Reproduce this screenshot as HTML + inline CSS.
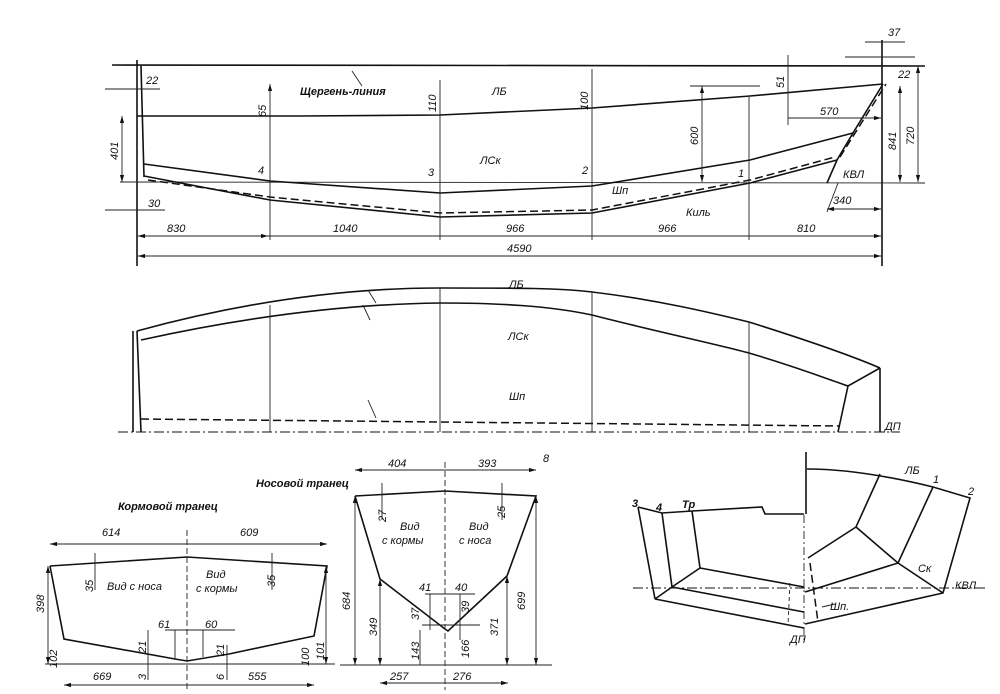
<!DOCTYPE html>
<html><head><meta charset="utf-8"><style>
html,body{margin:0;padding:0;background:#fff;}
svg{display:block}
text{font-family:"Liberation Sans",sans-serif;font-style:italic;font-size:11px;fill:#111}
.l{stroke:#111;stroke-width:1.6;fill:none}
.t{stroke:#222;stroke-width:0.9;fill:none}
.d{stroke:#111;stroke-width:1.5;fill:none;stroke-dasharray:8 4}
.dd{stroke:#111;stroke-width:1.1;fill:none;stroke-dasharray:10 3 2 3}
</style></head><body>
<svg width="1000" height="694" viewBox="0 0 1000 694" xmlns="http://www.w3.org/2000/svg">
<defs><marker id="a" viewBox="0 0 10 10" refX="10" refY="5" markerUnits="userSpaceOnUse" markerWidth="9" markerHeight="7" orient="auto-start-reverse"><path d="M0,2 L10,5 L0,8 z" fill="#111"/></marker></defs>

<!-- ===== PROFILE ===== -->
<line class="l" x1="112" y1="65" x2="925" y2="66"/>
<line class="l" x1="137" y1="60" x2="137" y2="266"/>
<line class="l" x1="141" y1="66" x2="144" y2="177"/>
<line class="t" x1="120" y1="182" x2="925" y2="183"/>
<polyline class="l" points="137,116 300,116 440,115 592,108 750,96 883,84"/>
<polyline class="l" points="144,164 270,181 440,193 592,186 750,160 853,133"/>
<polyline class="l" points="144,176 270,200 440,217 592,213 750,183 837,160"/>
<polyline class="d" points="148,180 270,197 440,213 592,210 750,180 835,157"/>
<polyline class="l" points="827,183 837,160 853,133 883,84"/>
<line class="d" x1="840" y1="157" x2="886" y2="84"/>
<line class="l" x1="882" y1="40" x2="882" y2="266"/>
<line class="t" x1="838" y1="183" x2="827" y2="212"/>
<!-- stations -->
<line class="t" x1="270" y1="84" x2="270" y2="240" marker-start="url(#a)"/>
<line class="t" x1="440" y1="80" x2="440" y2="240"/>
<line class="t" x1="592" y1="69" x2="592" y2="240"/>
<line class="t" x1="749" y1="97" x2="749" y2="240"/>
<line class="t" x1="702" y1="86" x2="702" y2="182" marker-start="url(#a)" marker-end="url(#a)"/>
<line class="t" x1="690" y1="86" x2="760" y2="86"/>
<line class="t" x1="788" y1="55" x2="788" y2="125"/>
<line class="t" x1="788" y1="118" x2="881" y2="118" marker-end="url(#a)"/>
<line class="t" x1="900" y1="86" x2="900" y2="182" marker-start="url(#a)" marker-end="url(#a)"/>
<line class="t" x1="918" y1="66" x2="918" y2="182" marker-start="url(#a)" marker-end="url(#a)"/>
<line class="t" x1="122" y1="116" x2="122" y2="182" marker-start="url(#a)" marker-end="url(#a)"/>
<line class="t" x1="105" y1="89" x2="160" y2="89"/>
<line class="t" x1="105" y1="210" x2="165" y2="210"/>
<line class="t" x1="827" y1="209" x2="881" y2="209" marker-start="url(#a)" marker-end="url(#a)"/>
<line class="t" x1="865" y1="42" x2="905" y2="42"/>
<line class="t" x1="845" y1="57" x2="915" y2="57"/>
<line class="t" x1="138" y1="236" x2="881" y2="236"/>
<line class="t" x1="138" y1="256" x2="881" y2="256" marker-start="url(#a)" marker-end="url(#a)"/>
<line class="t" x1="138" y1="236" x2="268" y2="236" marker-start="url(#a)" marker-end="url(#a)"/>
<line class="t" x1="749" y1="236" x2="881" y2="236" marker-end="url(#a)"/>
<line class="t" x1="352" y1="71" x2="362" y2="86"/>
<text x="300" y="95" font-weight="bold">Щергень-линия</text>
<text x="492" y="95">ЛБ</text><text x="480" y="164">ЛСк</text>
<text x="258" y="174" font-size="12">4</text><text x="428" y="176" font-size="12">3</text>
<text x="582" y="174" font-size="12">2</text><text x="738" y="177" font-size="12">1</text>
<text x="146" y="84">22</text><text x="148" y="207">30</text>
<text x="612" y="194">Шп</text><text x="686" y="216">Киль</text>
<text x="843" y="178" font-size="12">КВЛ</text><text x="833" y="204" font-size="12">340</text>
<text x="820" y="115" font-size="12">570</text><text x="888" y="36">37</text><text x="898" y="78">22</text>
<text x="167" y="232" font-size="12">830</text><text x="333" y="232" font-size="12">1040</text>
<text x="506" y="232" font-size="12">966</text><text x="658" y="232" font-size="12">966</text>
<text x="797" y="232" font-size="12">810</text><text x="507" y="252" font-size="12">4590</text>
<g font-size="12">
<text transform="translate(118,160) rotate(-90)">401</text>
<text transform="translate(266,117) rotate(-90)">65</text>
<text transform="translate(436,112) rotate(-90)">110</text>
<text transform="translate(588,110) rotate(-90)">100</text>
<text transform="translate(698,145) rotate(-90)">600</text>
<text transform="translate(784,88) rotate(-90)">51</text>
<text transform="translate(896,150) rotate(-90)">841</text>
<text transform="translate(914,145) rotate(-90)">720</text>
</g>

<!-- ===== PLAN ===== -->
<path class="l" d="M137,331 C250,300 350,288 440,288 C520,288 560,288 592,292 C660,300 720,315 749,322 C800,338 850,355 880,368"/>
<path class="l" d="M141,340 C250,316 350,304 440,303 C500,303 550,306 592,315 C650,330 720,345 749,353 C800,368 830,380 848,386 L880,368"/>
<line class="l" x1="133" y1="331" x2="133" y2="432"/>
<line class="l" x1="137" y1="331" x2="141" y2="432"/>
<line class="t" x1="270" y1="305" x2="270" y2="432"/>
<line class="t" x1="440" y1="288" x2="440" y2="432"/>
<line class="t" x1="592" y1="292" x2="592" y2="432"/>
<line class="t" x1="749" y1="322" x2="749" y2="432"/>
<polyline class="l" points="848,386 838,432"/>
<line class="l" x1="880" y1="368" x2="880" y2="432"/>
<line class="dd" x1="118" y1="432" x2="900" y2="432"/>
<line class="d" x1="141" y1="419" x2="840" y2="426"/>
<line class="t" x1="368" y1="400" x2="376" y2="418"/>
<line class="t" x1="368" y1="290" x2="376" y2="303"/>
<line class="t" x1="363" y1="305" x2="370" y2="320"/>
<text x="509" y="288">ЛБ</text><text x="508" y="340">ЛСк</text>
<text x="509" y="400" font-size="12">Шп</text><text x="885" y="430">ДП</text>

<!-- ===== STERN TRANSOM ===== -->
<text x="118" y="510" font-size="12" font-weight="bold">Кормовой транец</text>
<polyline class="l" points="50,566 187,557 327,566 314,636 229,654 187,661 175,659 64,639 50,566"/>
<line class="t" x1="45" y1="664" x2="335" y2="664"/>
<line class="t" x1="187" y1="530" x2="187" y2="690" stroke-dasharray="6 3"/>
<line class="t" x1="50" y1="544" x2="327" y2="544" marker-start="url(#a)" marker-end="url(#a)"/>
<line class="t" x1="64" y1="685" x2="314" y2="685" marker-start="url(#a)" marker-end="url(#a)"/>
<line class="t" x1="48" y1="566" x2="48" y2="664" marker-start="url(#a)" marker-end="url(#a)"/>
<line class="t" x1="326" y1="566" x2="326" y2="664" marker-start="url(#a)" marker-end="url(#a)"/>
<line class="t" x1="95" y1="553" x2="95" y2="590"/><line class="t" x1="272" y1="553" x2="272" y2="590"/>
<line class="t" x1="165" y1="630" x2="235" y2="630"/>
<line class="t" x1="175" y1="630" x2="175" y2="659"/><line class="t" x1="203" y1="630" x2="203" y2="657"/>
<line class="t" x1="148" y1="630" x2="148" y2="680"/><line class="t" x1="227" y1="645" x2="227" y2="680"/>
<text x="102" y="536" font-size="12">614</text><text x="240" y="536" font-size="12">609</text>
<text x="107" y="590" font-size="12">Вид с носа</text>
<text x="206" y="578" font-size="12">Вид</text><text x="196" y="592" font-size="12">с кормы</text>
<text x="158" y="628">61</text><text x="205" y="628">60</text>
<text x="93" y="680" font-size="12">669</text><text x="248" y="680" font-size="12">555</text>
<g>
<text transform="translate(44,613) rotate(-90)">398</text>
<text transform="translate(93,592) rotate(-90)">35</text>
<text transform="translate(275,587) rotate(-90)">35</text>
<text transform="translate(146,653) rotate(-90)">21</text>
<text transform="translate(224,656) rotate(-90)">21</text>
<text transform="translate(57,668) rotate(-90)">102</text>
<text transform="translate(309,666) rotate(-90)">100</text>
<text transform="translate(324,660) rotate(-90)">101</text>
<text transform="translate(146,680) rotate(-90)">3</text>
<text transform="translate(224,680) rotate(-90)">6</text>
</g>

<!-- ===== BOW TRANSOM ===== -->
<text x="256" y="487" font-weight="bold">Носовой транец</text>
<polyline class="l" points="355,496 445,491 536,496 507,576 448,631 445,629 380,579 355,496"/>
<line class="t" x1="340" y1="665" x2="552" y2="665"/>
<line class="t" x1="445" y1="462" x2="445" y2="690" stroke-dasharray="6 3"/>
<line class="t" x1="355" y1="470" x2="536" y2="470" marker-start="url(#a)" marker-end="url(#a)"/>
<line class="t" x1="380" y1="683" x2="508" y2="683" marker-start="url(#a)" marker-end="url(#a)"/>
<line class="t" x1="355" y1="496" x2="355" y2="665" marker-start="url(#a)" marker-end="url(#a)"/>
<line class="t" x1="536" y1="496" x2="536" y2="665" marker-start="url(#a)" marker-end="url(#a)"/>
<line class="t" x1="380" y1="579" x2="380" y2="665" marker-start="url(#a)" marker-end="url(#a)"/>
<line class="t" x1="507" y1="576" x2="507" y2="665" marker-start="url(#a)" marker-end="url(#a)"/>
<line class="t" x1="382" y1="483" x2="382" y2="520"/><line class="t" x1="502" y1="483" x2="502" y2="520"/>
<line class="t" x1="425" y1="594" x2="475" y2="594"/>
<line class="t" x1="430" y1="594" x2="430" y2="630"/><line class="t" x1="460" y1="594" x2="460" y2="640"/>
<line class="t" x1="422" y1="625" x2="480" y2="625"/>
<line class="t" x1="420" y1="630" x2="420" y2="665"/>
<text x="388" y="467" font-size="12">404</text><text x="478" y="467" font-size="12">393</text>
<text x="400" y="530" font-size="12">Вид</text><text x="382" y="544" font-size="12">с кормы</text>
<text x="469" y="530" font-size="12">Вид</text><text x="459" y="544" font-size="12">с носа</text>
<text x="419" y="591">41</text><text x="455" y="591">40</text>
<text x="390" y="680" font-size="12">257</text><text x="453" y="680" font-size="12">276</text>
<text x="543" y="462" font-size="9">8</text>
<g>
<text transform="translate(350,610) rotate(-90)">684</text>
<text transform="translate(377,636) rotate(-90)">349</text>
<text transform="translate(525,610) rotate(-90)">699</text>
<text transform="translate(498,636) rotate(-90)">371</text>
<text transform="translate(386,522) rotate(-90)">27</text>
<text transform="translate(505,518) rotate(-90)">25</text>
<text transform="translate(419,620) rotate(-90)">37</text>
<text transform="translate(469,613) rotate(-90)">39</text>
<text transform="translate(419,660) rotate(-90)">143</text>
<text transform="translate(469,658) rotate(-90)">166</text>
</g>

<!-- ===== PERSPECTIVE ===== -->
<polyline class="l" points="638,507 662,513 692,511 762,507 765,514 804,514"/>
<line class="l" x1="806" y1="452" x2="806" y2="514"/>
<line class="l" x1="638" y1="507" x2="655" y2="599"/>
<line class="l" x1="662" y1="513" x2="672" y2="587"/>
<line class="l" x1="692" y1="511" x2="700" y2="568"/>
<polyline class="l" points="655,599 672,587 700,568"/>
<line class="l" x1="655" y1="599" x2="804" y2="628"/>
<line class="l" x1="672" y1="587" x2="804" y2="612"/>
<line class="l" x1="700" y1="568" x2="804" y2="587"/>
<line class="t" x1="804" y1="515" x2="804" y2="640" stroke-dasharray="8 3 2 3"/>
<line class="t" x1="790" y1="583" x2="788" y2="625" stroke-dasharray="4 3"/>
<path class="l" d="M807,469 C840,469 880,474 933,487 L970,498 L943,593 L805,624"/>
<polyline class="l" points="880,474 856,527 808,558"/>
<polyline class="l" points="856,527 898,563 943,593"/>
<line class="l" x1="933" y1="487" x2="898" y2="563"/>
<line class="l" x1="898" y1="563" x2="805" y2="592"/>
<line class="d" x1="810" y1="563" x2="818" y2="622"/>
<line class="dd" x1="633" y1="588" x2="985" y2="588"/>
<line class="t" x1="822" y1="607" x2="835" y2="604"/>
<text x="632" y="507" font-size="12" font-weight="bold">3</text>
<text x="656" y="511" font-size="11" font-weight="bold">4</text>
<text x="682" y="508" font-weight="bold">Тр</text>
<text x="905" y="474">ЛБ</text><text x="933" y="483">1</text><text x="968" y="495">2</text>
<text x="918" y="572">Ск</text><text x="955" y="589" font-size="12">КВЛ</text>
<text x="830" y="610">Шп.</text><text x="790" y="643" font-size="12">ДП</text>
</svg>
</body></html>
